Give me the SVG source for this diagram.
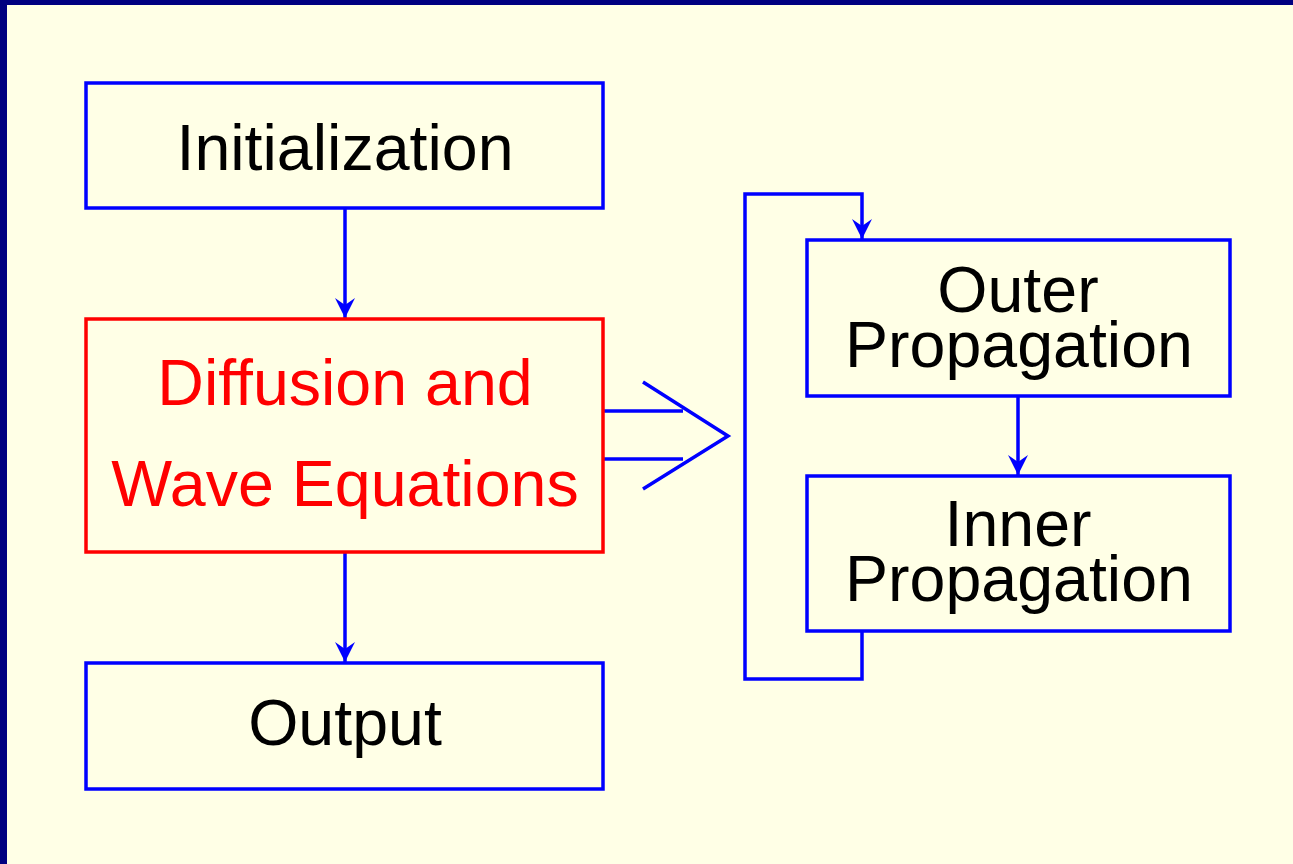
<svg xmlns="http://www.w3.org/2000/svg" width="1293" height="864" viewBox="0 0 1293 864">
<style>
.box{fill:none;stroke:#0000ff;stroke-width:3.5}
.red{fill:none;stroke:#ff0000;stroke-width:3.5}
.ln{fill:none;stroke:#0000ff;stroke-width:3.5}
text{font-family:"Liberation Sans",Arial,sans-serif;font-size:64.5px;text-anchor:middle;fill:#000}
text.r{fill:#ff0000}
</style>
<defs>
<marker id="ah" markerWidth="20" markerHeight="22" viewBox="0 0 20 22" refX="20" refY="10" orient="auto" markerUnits="userSpaceOnUse">
<path d="M0,0 L20,10 L0,20 L7,10 Z" fill="#0000ff"/>
</marker>
</defs>
<rect x="0" y="0" width="1293" height="864" fill="#ffffe6"/>
<rect x="0" y="0" width="1293" height="5" fill="#000080"/>
<rect x="0" y="0" width="7" height="864" fill="#000080"/>
<g id="connectors">
<line class="ln" x1="345" y1="209" x2="345" y2="318" marker-end="url(#ah)"/>
<line class="ln" x1="345" y1="553" x2="345" y2="662" marker-end="url(#ah)"/>
<line class="ln" x1="1018" y1="397" x2="1018" y2="475" marker-end="url(#ah)"/>
<polyline class="ln" points="862,632 862,679 745,679 745,194 862,194 862,239" marker-end="url(#ah)"/>
<line class="ln" x1="603" y1="411" x2="683" y2="411"/>
<line class="ln" x1="603" y1="459" x2="683" y2="459"/>
<polyline class="ln" points="643,382 728,436 643,489"/>
</g>
<g id="init">
<rect class="box" x="86" y="83" width="517" height="125"/>
<text x="345" y="170">Initialization</text>
</g>
<g id="diffusion">
<rect class="red" x="86" y="319" width="517" height="233"/>
<text class="r" x="345" y="405">Diffusion and</text>
<text class="r" x="345" y="506">Wave Equations</text>
</g>
<g id="output">
<rect class="box" x="86" y="663" width="517" height="126"/>
<text x="345" y="745">Output</text>
</g>
<g id="outer">
<rect class="box" x="807" y="240" width="423" height="156"/>
<text x="1018" y="312">Outer</text>
<text x="1019" y="367">Propagation</text>
</g>
<g id="inner">
<rect class="box" x="807" y="476" width="423" height="155"/>
<text x="1018" y="546">Inner</text>
<text x="1019" y="601">Propagation</text>
</g>
</svg>
